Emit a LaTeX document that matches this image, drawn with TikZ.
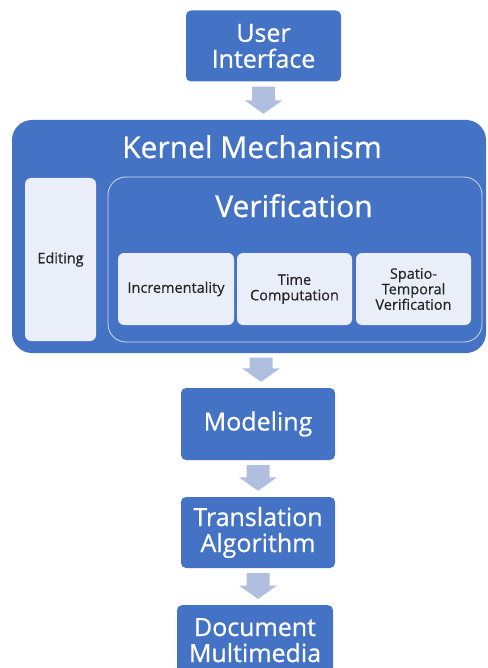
\documentclass[tikz,border=0pt]{standalone}
\usepackage{fontspec}
\setmainfont{Open Sans}[FakeBold=0.6]
\usetikzlibrary{calc}
\definecolor{boxblue}{HTML}{4472C4}
\definecolor{arrowcol}{HTML}{B0BEE0}
\definecolor{lightfill}{HTML}{EAEEF8}
\definecolor{darktext}{HTML}{262626}
\tikzset{
  bluebox/.style={fill=boxblue, draw=none, rounded corners=5pt, text=white, align=center, inner sep=0pt},
  innerbox/.style={fill=lightfill, draw=none, rounded corners=6pt, text=darktext, align=center, inner sep=0pt, font=\fontsize{14.5}{15.5}\selectfont},
  bigtext/.style={font=\fontsize{25}{26}\selectfont},
  titletext/.style={text=white, font=\fontsize{30}{32}\selectfont, anchor=base, inner sep=0pt},
}
\newcommand\blockarrow[2]{%
  \fill[arrowcol] let \p1=(#1), \p2=(#2.north) in
    (\x1-11.5pt,\y1-5pt) -- (\x1+11.5pt,\y1-5pt) -- (\x1+11.5pt,\y2+19.5pt) --
    (\x1+19pt,\y2+19.5pt) -- (\x1,\y2+6pt) -- (\x1-19pt,\y2+19.5pt) --
    (\x1-11.5pt,\y2+19.5pt) -- cycle;}
\begin{document}
\begin{tikzpicture}[x=1pt,y=-1pt]
\useasboundingbox (0,0) rectangle (487,668);
% User Interface
\node[bluebox, bigtext, minimum width=155pt, minimum height=71pt] (ui) at (263.5,46) {User\\Interface};
% Kernel
\node[bluebox, rounded corners=20pt, minimum width=474pt, minimum height=233pt] (kernel) at (249,236.5) {};
\node[titletext] (kt) at (252,158) {Kernel Mechanism};
% Editing
\node[innerbox, minimum width=71pt, minimum height=163pt] (edit) at (60.5,259.5) {Editing};
% Verification
\node[fill=boxblue, draw=white!75!boxblue, line width=0.8pt, rounded corners=18pt, minimum width=374pt, minimum height=165pt, inner sep=0pt] (verif) at (295,259.5) {};
\node[titletext] (vt) at (294,217) {Verification};
\node[innerbox, minimum width=116pt, minimum height=72pt] (inc) at (176,289) {Incrementality};
\node[innerbox, minimum width=115pt, minimum height=72pt] (time) at (294.5,289) {Time\\Computation};
\node[innerbox, minimum width=115pt, minimum height=72pt] (spat) at (413.5,289) {Spatio-\\Temporal\\Verification};
% Lower chain
\node[bluebox, bigtext, minimum width=154pt, minimum height=72pt] (model) at (258,424) {Modeling};
\node[bluebox, bigtext, minimum width=154pt, minimum height=71pt] (trans) at (258,532.5) {Translation\\Algorithm};
\node[bluebox, bigtext, minimum width=156pt, minimum height=70pt, anchor=north] (doc) at (255,605) {Document\\Multimedia};
% Arrows
\coordinate (kout) at (261,352.5);
\blockarrow{ui.south}{kernel}
\blockarrow{kout}{model}
\blockarrow{model.south}{trans}
\blockarrow{trans.south}{doc}
\end{tikzpicture}
\end{document}
